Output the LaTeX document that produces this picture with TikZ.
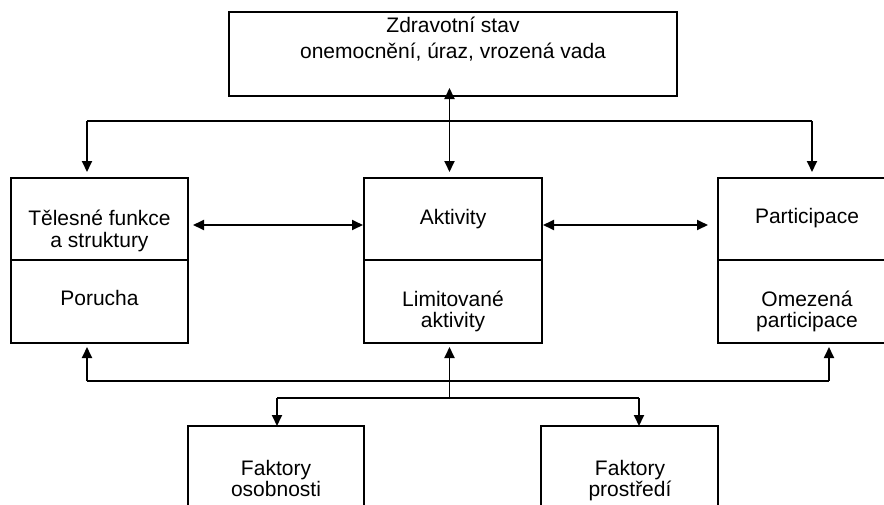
\documentclass[tikz,border=0pt]{standalone}
\usepackage{fontspec}
\setmainfont{Liberation Sans}
\usetikzlibrary{arrows.meta}
\begin{document}
\begin{tikzpicture}[x=1pt,y=-1pt,
  box/.style={draw=black, line width=1.8pt, anchor=north west, inner sep=0pt, outer sep=0pt},
  txt/.style={anchor=base, inner sep=0pt, font=\fontsize{21}{25}\selectfont},
  conn/.style={draw=black, line width=1.8pt},
  arr/.style={conn, -{Triangle[length=11pt,width=10pt]}},
  dbl/.style={conn, {Triangle[length=11pt,width=10pt]}-{Triangle[length=11pt,width=10pt]}}]
\useasboundingbox (0,0) rectangle (884,504);
\clip (0,0) rectangle (884,504);
% boxes
\node[box, minimum width=448pt, minimum height=84pt] (T) at (229,12) {};
\node[box, minimum width=177pt, minimum height=165pt] (L) at (11,178) {};
\node[box, minimum width=178pt, minimum height=165pt] (M) at (364,178) {};
\node[box, minimum width=178pt, minimum height=165pt] (R) at (718,178) {};
\node[box, minimum width=176pt, minimum height=100pt] (BL) at (188,426) {};
\node[box, minimum width=177pt, minimum height=100pt] (BR) at (541,426) {};
% dividers
\draw[conn] (L.west |- 0,260) -- (L.east |- 0,260);
\draw[conn] (M.west |- 0,260) -- (M.east |- 0,260);
\draw[conn] (R.west |- 0,260) -- (R.east |- 0,260);
% texts
\node[txt] (t1) at (453,32) {Zdravotní stav};
\node[txt] (t2) at (453,58) {onemocnění, úraz, vrozená vada};
\node[txt] (l1) at (99.5,225) {Tělesné funkce};
\node[txt] (l2) at (99.5,247) {a struktury};
\node[txt] (l3) at (99.5,305) {Porucha};
\node[txt] (m1) at (453,224) {Aktivity};
\node[txt] (m2) at (453,306) {Limitované};
\node[txt] (m3) at (453,327) {aktivity};
\node[txt] (r1) at (807,223) {Participace};
\node[txt] (r2) at (807,306) {Omezená};
\node[txt] (r3) at (807,327) {participace};
\node[txt] (bl1) at (276,475) {Faktory};
\node[txt] (bl2) at (276,496) {osobnosti};
\node[txt] (br1) at (630,475) {Faktory};
\node[txt] (br2) at (630,496) {prostředí};
% top connectors
\coordinate (a1) at (87,121);
\coordinate (a2) at (812,121);
\coordinate (am) at (449.5,121);
\draw[conn] (a1) -- (a2);
\draw[arr, shorten >=6pt] (a1) -- (a1 |- L.north);
\draw[arr, shorten >=6pt] (a2) -- (a2 |- R.north);
\draw[dbl, shorten <=-8pt, shorten >=6pt] (am |- T.south) -- (am |- M.north);
% horizontal double arrows
\draw[dbl, shorten <=5pt, shorten >=1pt] (L.east |- 0,225) -- (M.west |- 0,225);
\draw[dbl, shorten <=1pt, shorten >=10pt] (M.east |- 0,225) -- (R.west |- 0,225);
% bottom connectors
\coordinate (b1) at (87,381);
\coordinate (b2) at (829,381);
\coordinate (c1) at (277,398);
\coordinate (c2) at (639,398);
\coordinate (cm) at (449.5,398);
\draw[conn] (b1) -- (b2);
\draw[conn] (c1) -- (c2);
\draw[arr, shorten >=4pt] (b1) -- (b1 |- L.south);
\draw[arr, shorten >=4pt] (b2) -- (b2 |- R.south);
\draw[arr, shorten >=4pt] (cm) -- (cm |- M.south);
\draw[arr] (c1) -- (c1 |- BL.north);
\draw[arr] (c2) -- (c2 |- BR.north);
\end{tikzpicture}
\end{document}
